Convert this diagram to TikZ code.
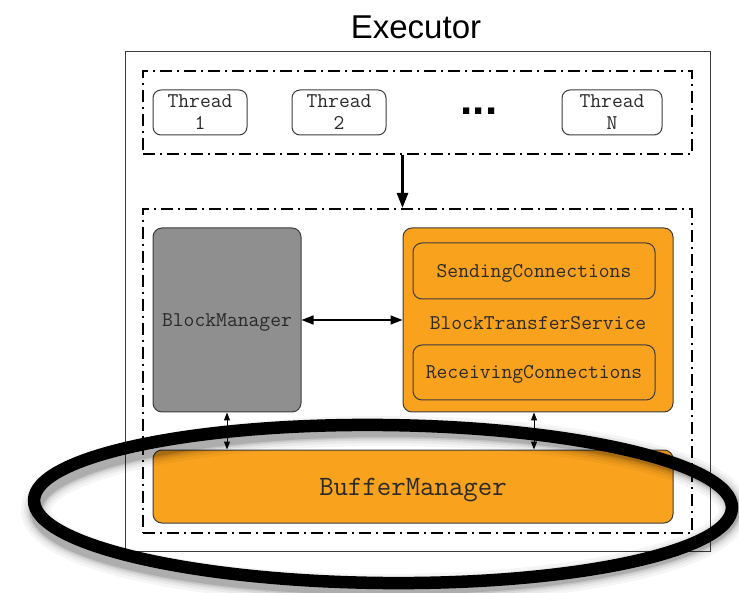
\documentclass[tikz,border=0pt]{standalone}
\usepackage{fontspec}
\setmainfont{Liberation Sans}
\usetikzlibrary{arrows.meta}

\definecolor{boxorange}{HTML}{F9A21E}
\definecolor{boxgray}{HTML}{8F8F8F}
\definecolor{edgegray}{HTML}{3C3C3C}
\definecolor{txtgray}{HTML}{2A2A2A}

\tikzset{
  frame/.style={draw=edgegray, line width=1pt, rectangle},
  group/.style={draw=black, line width=2pt, rectangle,
    dash pattern=on 12pt off 5pt on 2pt off 5pt},
  threadbox/.style={draw=edgegray, line width=1pt, rounded corners=8pt, fill=white,
    align=center, font=\fontsize{21}{22}\ttfamily, text=txtgray, inner sep=0pt},
  compbox/.style={draw=edgegray, line width=1pt, rounded corners=9pt,
    font=\fontsize{21}{22}\ttfamily, text=txtgray, inner sep=0pt},
  label/.style={font=\fontsize{21}{22}\ttfamily, text=txtgray, inner sep=0pt},
  bigarrow/.style={line width=2.5pt, -{Triangle[length=15pt,width=11pt]}},
  twoway/.style={line width=1.6pt, {Triangle[length=12pt,width=9pt]}-{Triangle[length=12pt,width=9pt]}},
  thinway/.style={line width=1pt, {Triangle[length=8pt,width=6pt]}-{Triangle[length=8pt,width=6pt]}},
}

\begin{document}
\begin{tikzpicture}[x=1pt, y=-1pt]
\useasboundingbox (0,0) rectangle (739,593);

% title and outer executor frame
\node[font=\fontsize{33}{36}\selectfont, text=black] (title) at (416,27) {Executor};
\node[frame, minimum width=585pt, minimum height=499pt] (exec) at (417.5,301.5) {};

% thread pool
\node[group, minimum width=549pt, minimum height=83pt] (pool) at (417.5,112.5) {};
\node[threadbox, minimum width=94pt, minimum height=45pt] (t1) at (200,112.5) {Thread\\1};
\node[threadbox, minimum width=94pt, minimum height=45pt] (t2) at (339,112.5) {Thread\\2};
\node[font=\fontsize{44}{44}\bfseries, anchor=base, inner sep=0pt] (dots) at (479,115) {...};
\node[threadbox, minimum width=100pt, minimum height=45pt] (tn) at (612,112.5) {Thread\\N};

% storage components
\node[group, minimum width=549pt, minimum height=324pt] (store) at (417.5,371) {};
\node[compbox, fill=boxgray, minimum width=148pt, minimum height=184pt] (bm) at (227,320) {};
\node[label] (bmlabel) at (227,322) {BlockManager};
\node[compbox, fill=boxorange, minimum width=270pt, minimum height=184pt] (bts) at (538,320) {};
\node[label] (btslabel) at (538,323) {BlockTransferService};
\node[compbox, fill=boxorange, minimum width=242pt, minimum height=56pt] (send) at (534,271) {};
\node[label] (sendlabel) at (534,273) {SendingConnections};
\node[compbox, fill=boxorange, minimum width=242pt, minimum height=55pt] (recv) at (534,372.5) {};
\node[label] (recvlabel) at (534,374.5) {ReceivingConnections};
\node[compbox, fill=boxorange, minimum width=520pt, minimum height=73pt] (bufm) at (413,486.5) {};
\node[label, font=\fontsize{28}{30}\ttfamily] (bufmlabel) at (413,490) {BufferManager};

% connectors
\draw[bigarrow] (pool.south -| bts.west) -- (store.north -| bts.west);
\draw[twoway] (bm.east) -- (bts.west);
\draw[thinway] (bm.south) -- (bm.south |- bufm.north);
\draw[thinway] (recv.south |- bts.south) -- (recv.south |- bufm.north);

% hand-drawn highlight ring with a soft shadow
\begin{scope}[shift={(2,6)}]
  \foreach \w/\o in {30/0.04, 24/0.05, 19/0.07, 15/0.09, 12/0.12}
    \draw[black, opacity=\o, line width=\w pt] (383,504) ellipse [x radius=349, y radius=79];
\end{scope}
\draw[black, line width=12.5pt, rotate around={-0.6:(383,504)}] (383,504) ellipse [x radius=349, y radius=79];
\end{tikzpicture}
\end{document}
